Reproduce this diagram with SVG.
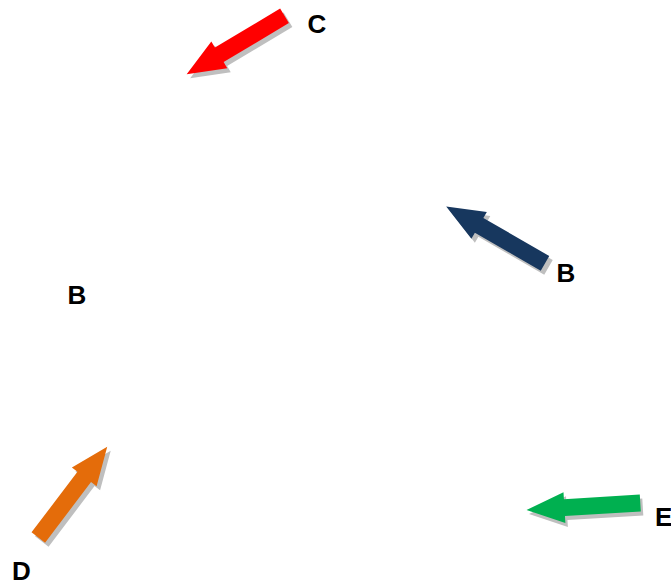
<svg xmlns="http://www.w3.org/2000/svg" xmlns:xlink="http://www.w3.org/1999/xlink" width="671" height="584" viewBox="0 0 671 584">
<style>
.lbl{font-family:"Liberation Sans",Arial,sans-serif;font-weight:bold;font-size:26px;fill:#000}
.sh{fill:#bfbfbf}
</style>
<defs>
<path id="arr" d="M0,-8.5 L76,-8.5 L76,-15.5 L114,0 L76,15.5 L76,8.5 L0,8.5 Z"/>
</defs>
<rect width="671" height="584" fill="#fff"/>
<g id="connectors">
<g id="arrow-c">
<use xlink:href="#arr" class="sh" transform="translate(288,19.8) rotate(149.1)"/>
<use xlink:href="#arr" fill="#ff0000" transform="translate(284.5,15.8) rotate(149.1)"/>
</g>
<g id="arrow-b">
<use xlink:href="#arr" class="sh" transform="translate(548.5,267.3) rotate(-150.1)"/>
<use xlink:href="#arr" fill="#17375e" transform="translate(545,263.3) rotate(-150.1)"/>
</g>
<g id="arrow-d">
<use xlink:href="#arr" class="sh" transform="translate(41.8,541.5) rotate(-52.8)"/>
<use xlink:href="#arr" fill="#e46c0a" transform="translate(38.3,537.5) rotate(-52.8)"/>
</g>
<g id="arrow-e">
<use xlink:href="#arr" class="sh" transform="translate(642.8,507) rotate(176.5)"/>
<use xlink:href="#arr" fill="#00b050" transform="translate(640.3,503) rotate(176.5)"/>
</g>
</g>
<g id="node-c"><text class="lbl" x="307.5" y="33">C</text></g>
<g id="node-b-right"><text class="lbl" x="556.5" y="282">B</text></g>
<g id="node-b-left"><text class="lbl" x="67.5" y="304">B</text></g>
<g id="node-d"><text class="lbl" x="12" y="580">D</text></g>
<g id="node-e"><text class="lbl" x="655" y="526">E</text></g>
</svg>
